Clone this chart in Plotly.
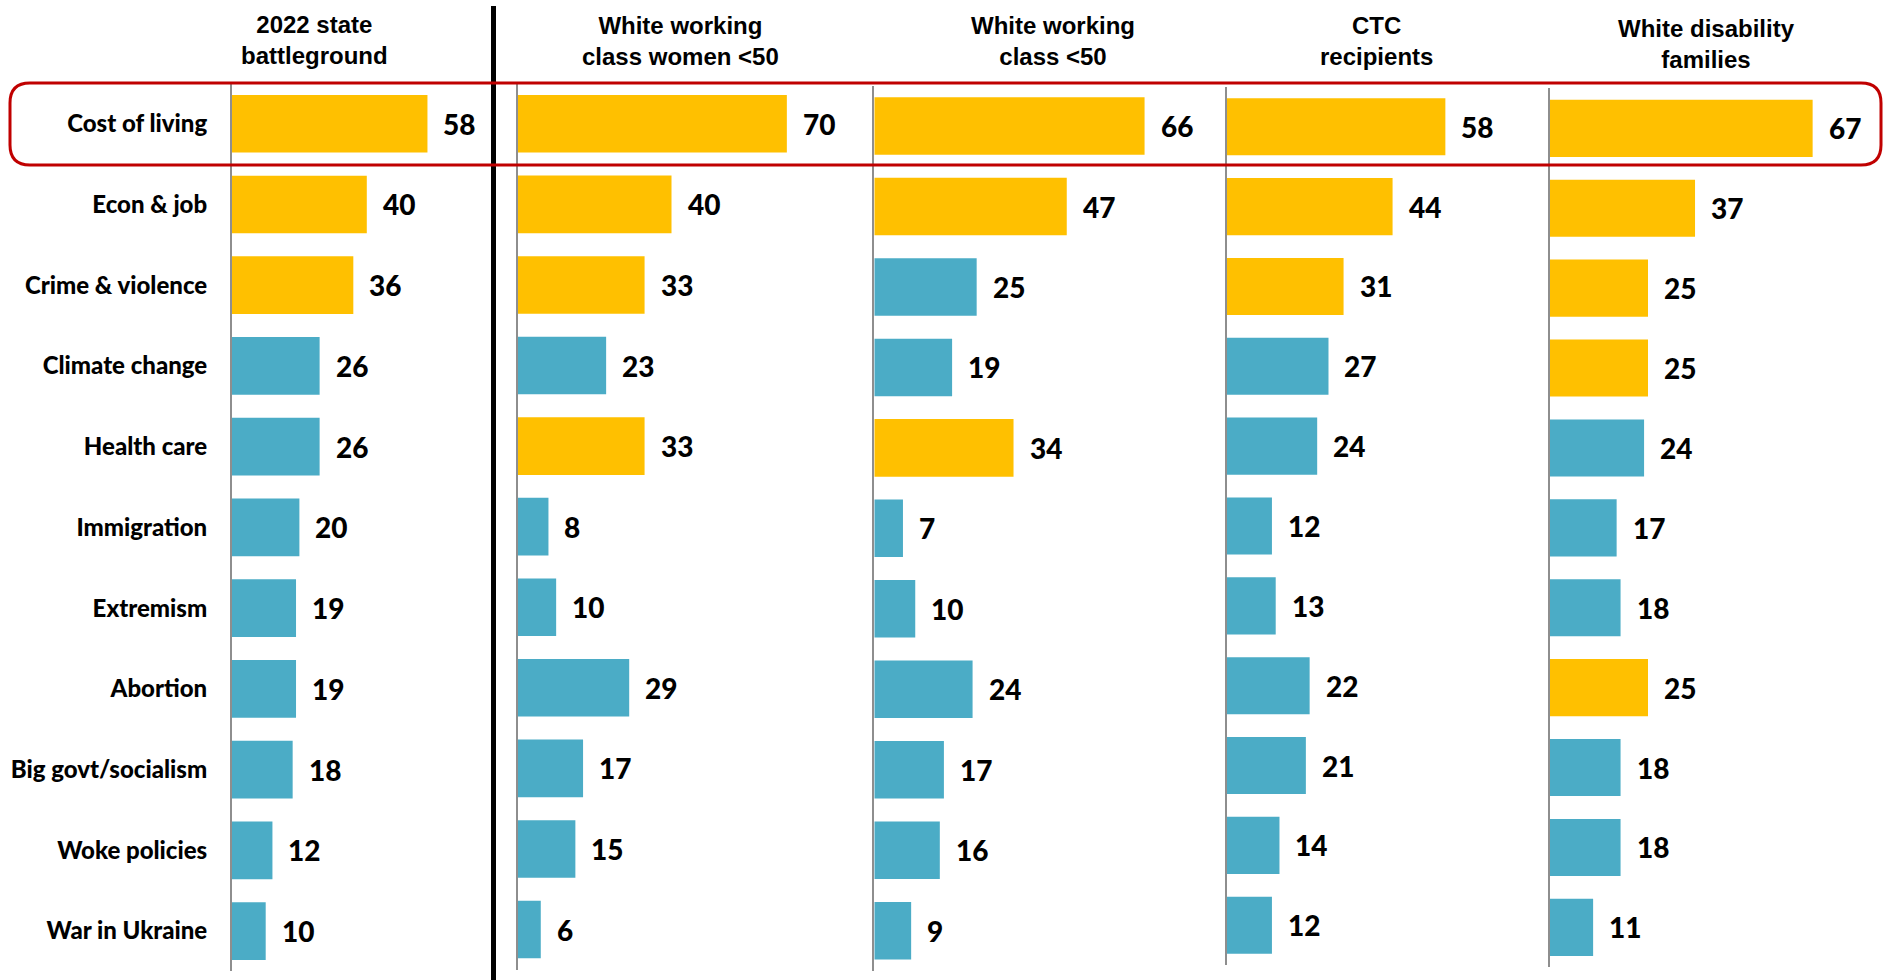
import plotly.graph_objects as go

# issue list, top to bottom
issues = ["Cost of living", "Econ & job", "Crime & violence", "Climate change",
          "Health care", "Immigration", "Extremism", "Abortion",
          "Big govt/socialism", "Woke policies", "War in Ukraine"]

group_names = ["2022 state<br>battleground", "White working<br>class women <50",
               "White working<br>class <50", "CTC<br>recipients",
               "White disability<br>families"]

battleground = [58, 40, 36, 26, 26, 20, 19, 19, 18, 12, 10]
wwc_women_u50 = [70, 40, 33, 23, 33, 8, 10, 29, 17, 15, 6]
wwc_u50 = [66, 47, 25, 19, 34, 7, 10, 24, 17, 16, 9]
ctc_recipients = [58, 44, 31, 27, 24, 12, 13, 22, 21, 14, 12]
disability_families = [67, 37, 25, 25, 24, 17, 18, 25, 18, 18, 11]

series = [battleground, wwc_women_u50, wwc_u50, ctc_recipients, disability_families]

GOLD = "#FFC000"
TEAL = "#4BACC6"
W, H = 1883, 980


def px_x(p):
    return p / W


def px_y(p):
    return 1 - p / H


# panel geometry in pixels: axis x, right edge, top, bottom, px per unit, header centre
panels = [
    dict(ax=232.0, right=490, top=83.4, bot=971.4, ppu=3.37, hx=314.5, hy=40),
    dict(ax=517.7, right=870, top=83.5, bot=969.8, ppu=3.845, hx=680.5, hy=41),
    dict(ax=874.3, right=1222, top=85.8, bot=970.9, ppu=4.095, hx=1053.3, hy=41),
    dict(ax=1226.7, right=1545, top=86.8, bot=965.2, ppu=3.77, hx=1376.5, hy=41),
    dict(ax=1550.0, right=1880, top=88.4, bot=967.3, ppu=3.92, hx=1706.0, hy=44),
]

fig = go.Figure()
annotations = []

for i, (vals, p) in enumerate(zip(series, panels)):
    n = "" if i == 0 else str(i + 1)
    third = sorted(vals, reverse=True)[2]
    colors = [GOLD if v >= third else TEAL for v in vals]
    fig.add_trace(go.Bar(
        x=vals, y=issues, orientation="h",
        marker=dict(color=colors, line=dict(width=0)),
        width=0.715, hoverinfo="x+y",
        xaxis="x" + n, yaxis="y" + n, showlegend=False,
    ))
    xmax = (p["right"] - p["ax"]) / p["ppu"]
    fig.layout["xaxis" + n] = dict(
        domain=[px_x(p["ax"]), px_x(p["right"])], range=[0, xmax],
        anchor="y" + n, visible=False, fixedrange=True,
    )
    fig.layout["yaxis" + n] = dict(
        domain=[px_y(p["bot"]), px_y(p["top"])], anchor="x" + n,
        type="category", categoryorder="array", categoryarray=issues,
        range=[len(issues) - 0.5, -0.5],
        showline=True, linecolor="#8E8E8E", linewidth=2,
        showgrid=False, zeroline=False, ticks="",
        showticklabels=(i == 0), ticklabelstandoff=18,
        tickfont=dict(family="Lato", size=24, color="black", weight=900),
        fixedrange=True,
    )
    for cat, v in zip(issues, vals):
        annotations.append(dict(
            x=v, y=cat, xref="x" + n, yref="y" + n, text=str(v),
            showarrow=False, xanchor="left", yanchor="middle", xshift=14,
            font=dict(family="Lato", size=28, color="black", weight=900),
        ))
    annotations.append(dict(
        x=px_x(p["hx"]), y=px_y(p["hy"]), xref="paper", yref="paper",
        text=group_names[i], showarrow=False, xanchor="center", yanchor="middle",
        font=dict(family="Liberation Sans", size=24, color="black", weight="bold"),
    ))

# red rounded box around the first row
x0, x1, y0, y1, r = 10, 1881, 83, 165, 20
pts = [
    ("M", x0 + r, y0), ("L", x1 - r, y0), ("Q", x1, y0, x1, y0 + r),
    ("L", x1, y1 - r), ("Q", x1, y1, x1 - r, y1), ("L", x0 + r, y1),
    ("Q", x0, y1, x0, y1 - r), ("L", x0, y0 + r), ("Q", x0, y0, x0 + r, y0),
]
path = ""
for seg in pts:
    cmd, coords = seg[0], seg[1:]
    xy = [f"{px_x(coords[k]):.5f},{px_y(coords[k + 1]):.5f}" for k in range(0, len(coords), 2)]
    path += cmd + " ".join(xy) + " "
path += "Z"

shapes = [
    dict(type="line", xref="paper", yref="paper",
         x0=px_x(493.5), x1=px_x(493.5), y0=px_y(6), y1=px_y(H),
         line=dict(color="black", width=5)),
    dict(type="path", xref="paper", yref="paper", path=path,
         line=dict(color="#C00000", width=3)),
]

fig.update_layout(
    width=W, height=H,
    margin=dict(l=0, r=0, t=0, b=0),
    plot_bgcolor="white", paper_bgcolor="white",
    bargap=0.285,
    annotations=annotations, shapes=shapes,
)

# page body has a default margin; drop it so the figure sits at 0,0
fig.write_html("out.html", config={"displayModeBar": False},
               post_script="document.body.style.margin='0';")
